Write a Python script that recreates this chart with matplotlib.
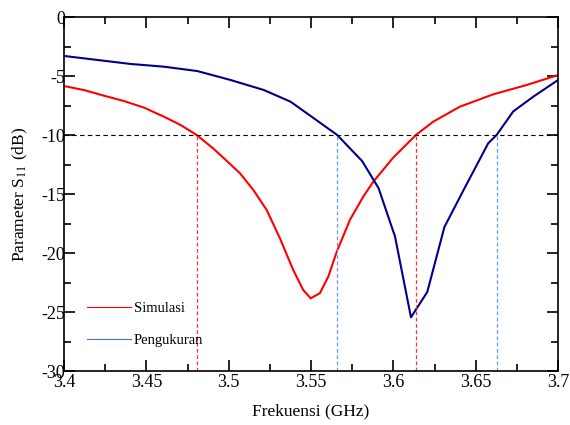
import matplotlib
matplotlib.use('Agg')
import matplotlib.pyplot as plt
from matplotlib.ticker import MultipleLocator
import numpy as np

plt.rcParams['font.family'] = ['Liberation Serif', 'DejaVu Serif']
plt.rcParams['mathtext.fontset'] = 'stix'

# S11 simulation
f_sim = [3.400, 3.4121, 3.4243, 3.4364, 3.4486, 3.4607, 3.4708, 3.4806, 3.4911, 3.5012,
         3.5069, 3.515, 3.5231, 3.5311, 3.5392, 3.5453, 3.5498, 3.5554, 3.5605, 3.5656,
         3.5736, 3.5817, 3.5878, 3.600, 3.6137, 3.6242, 3.6404, 3.6607, 3.681, 3.700]
s_sim = [-5.85, -6.19, -6.67, -7.12, -7.68, -8.45, -9.15, -10.0, -11.2, -12.5,
         -13.25, -14.66, -16.36, -18.75, -21.44, -23.14, -23.84, -23.4, -22.0, -19.9,
         -17.2, -15.23, -13.96, -11.9, -10.0, -8.87, -7.6, -6.55, -5.76, -4.92]

# S11 measurement
f_meas = [3.400, 3.4202, 3.4405, 3.4607, 3.4809, 3.5012, 3.5214, 3.5376, 3.5518, 3.5659,
          3.581, 3.591, 3.601, 3.6107, 3.6206, 3.631, 3.6425, 3.6576, 3.6627, 3.6728,
          3.685, 3.700]
s_meas = [-3.3, -3.64, -3.98, -4.21, -4.58, -5.34, -6.19, -7.18, -8.59, -10.0,
          -12.2, -14.5, -18.6, -25.45, -23.3, -17.8, -14.7, -10.7, -10.0, -8.0,
          -6.75, -5.34]

# -10 dB bandwidth edges
edges_sim = [3.4806, 3.6137]
edges_meas = [3.5659, 3.6627]
level = -10

fig = plt.figure(figsize=(5.7, 4.25), dpi=100)
ax = fig.add_axes([0.1123, 0.127, 0.8667, 0.833])

ax.plot(f_sim, s_sim, color='#ff0000', lw=1.5, label='Simulasi')
ax.plot(f_meas, s_meas, color='#00008b', lw=1.5, label='Pengukuran')

ax.axhline(level, color='black', ls=(0, (4, 3)), lw=0.8)
for xv in edges_sim:
    ax.plot([xv, xv], [-30, level], color='#ff3333', ls=(0, (3, 2)), lw=0.9)
for xv in edges_meas:
    ax.plot([xv, xv], [-30, level], color='#6a9be0', ls=(0, (3, 2)), lw=0.9)

ax.set_xlim(3.4, 3.7)
ax.set_ylim(-30, 0)
ax.xaxis.set_major_locator(MultipleLocator(0.05))
ax.xaxis.set_minor_locator(MultipleLocator(0.025))
ax.yaxis.set_major_locator(MultipleLocator(5))
ax.yaxis.set_minor_locator(MultipleLocator(2.5))
ax.set_xticklabels([f'{v:g}' for v in ax.get_xticks()])
ax.set_yticklabels([f'{v:g}' for v in ax.get_yticks()])
ax.tick_params(which='both', direction='in', top=True, right=True, width=1.2, labelsize=13)
ax.tick_params(which='major', length=8, pad=2)
ax.tick_params(which='minor', length=5)
ax.tick_params(axis='y', pad=-1)
for s in ax.spines.values():
    s.set_linewidth(1.2)

ax.set_xlabel('Frekuensi (GHz)', fontsize=12.5, labelpad=9)
ax.set_ylabel(r'Parameter S$_{11}$ (dB)', fontsize=12.5, labelpad=8)

leg = ax.legend(loc='lower left', bbox_to_anchor=(0.02, 0.03), frameon=False,
                fontsize=10.5, handlelength=3.0, handletextpad=0.2, labelspacing=1.3)
for ln in leg.get_lines():
    ln.set_linewidth(0.8)
leg.get_lines()[1].set_color('#4472c4')

fig.savefig('out.png', dpi=100)
